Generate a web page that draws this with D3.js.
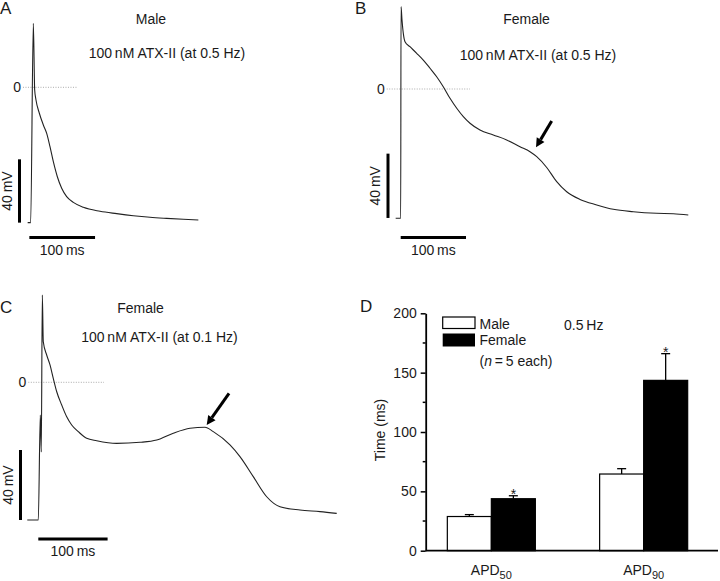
<!DOCTYPE html>
<html><head><meta charset="utf-8">
<script src="https://cdn.jsdelivr.net/npm/d3@7"></script>
<style>body{margin:0;background:#fff}text{font-family:"Liberation Sans",Arial,sans-serif;fill:#1a1a1a}</style>
</head><body><svg id="c" width="720" height="581"></svg>
<script>
// ---- data: action potential traces (time ms, voltage mV)
const traceA_t = [-4.6,0,4.05,6.1,8.1,13.2,19.3,24.4,29.4,34.5,40.6,47.2,54.8,64.9,80.2,105.5,130.9,156.3,181.6,207,232.4,255.2];
const traceA_v = [-85.5,-85.5,40.4,-1.7,-8.0,-16.4,-23.8,-29.1,-37.5,-47.0,-56.5,-63.8,-69.1,-72.7,-75.8,-78.3,-79.8,-81.1,-82.1,-82.8,-83.4,-83.8];
const traceB_t = [-7.7,0,0.5,2.0,4.0,6.6,14.2,24.5,34.6,44.9,55.1,65.2,75.5,85.8,95.9,106.1,121.4,141.8,162.3,182.7,198.0,208.3,223.6,238.9,254.2,274.6,300.2,325.6,356.2,392.0,417.5,440.4];
const traceB_v = [-80.4,-80.4,51.2,42.9,34.6,29.4,26.3,22.2,18.0,12.9,7.6,1.4,-5.8,-12.0,-17.2,-21.3,-25.5,-28.6,-31.7,-35.9,-39.0,-42.1,-48.8,-57.6,-63.9,-68.7,-72.1,-74.8,-76.3,-77.3,-77.6,-78.4];
const traceC_t = [-15.9,0,2.9,4.3,5.8,7.2,12.1,16.9,21.6,26.6,33.8,41.0,48.2,57.7,69.8,84.3,113.1,146.8,170.9,194.8,218.9,240.5,252.5,276.6,291.0,310.2,329.6,348.8,377.6,406.5,430.6];
const traceC_v = [-78.7,-78.7,-18.7,-39.8,49.9,23.2,15.6,9.9,2.3,-5.4,-13.0,-19.7,-24.4,-28.2,-32.0,-33.4,-34.9,-34.3,-33.0,-29.1,-26.3,-25.7,-28.2,-35.8,-42.5,-53.9,-65.4,-71.1,-73.0,-73.9,-74.9];
// arrows: [tail t, tail V, tip t, tip V]
const arrowB = [231.2,-19.9,207.2,-36.3];
const arrowC = [275.2,-6.3,243.0,-24.4];
// ---- data: bar chart (panel D)
const categories = ["APD50","APD90"];
const groups = ["Male","Female"];
const maleMean = [28.8,64.6];
const maleErr = [1.6,4.5];
const femaleMean = [43.8,143.5];
const femaleErr = [2.5,22.5];
const yTicks = [0,50,100,150,200];
const yMinor = [25,75,125,175];

const svg = d3.select("#c");

function panel(cfg){
  const x = d3.scaleLinear().domain([0,100]).range([cfg.x0, cfg.x0 + cfg.pxMs*100]);
  const y = d3.scaleLinear().domain([0,40]).range([cfg.zeroY, cfg.zeroY - cfg.pxMv*40]);
  const g = svg.append("g");
  // zero dotted line
  g.append("line").attr("x1",x(cfg.zero[0])).attr("x2",x(cfg.zero[1]))
    .attr("y1",y(0)).attr("y2",y(0)).attr("stroke","#aaa").attr("stroke-width",1).attr("stroke-dasharray","1,1.5");
  g.append("text").attr("x",x(cfg.zero[0])-2).attr("y",y(0)+5).attr("text-anchor","end").attr("font-size",14).text("0");
  // trace
  const pts = cfg.t.map((t,i)=>[t,cfg.v[i]]);
  g.append("path").datum(pts)
    .attr("d", d3.line().x(d=>x(d[0])).y(d=>y(d[1])).curve(d3.curveMonotoneX))
    .attr("fill","none").attr("stroke","#222").attr("stroke-width",1.1);
  // scale bars
  const vb = cfg.vbar; // [x px, V bottom]
  g.append("line").attr("x1",vb[0]).attr("x2",vb[0]).attr("y1",y(vb[1])).attr("y2",y(vb[1]+40))
    .attr("stroke","#000").attr("stroke-width",3);
  g.append("text").attr("transform",`translate(${vb[0]-8},${(y(vb[1])+y(vb[1]+40))/2}) rotate(-90)`)
    .attr("text-anchor","middle").attr("font-size",14).text("40\u2009mV");
  const hb = cfg.hbar; // [t start, y px]
  g.append("line").attr("x1",x(hb[0])).attr("x2",x(hb[0]+100)).attr("y1",hb[1]).attr("y2",hb[1])
    .attr("stroke","#000").attr("stroke-width",3);
  g.append("text").attr("x",(x(hb[0])+x(hb[0]+100))/2).attr("y",hb[1]+17).attr("text-anchor","middle")
    .attr("font-size",14).text("100\u2009ms");
  // arrow
  if(cfg.arrow){
    const a = cfg.arrow;
    const x1=x(a[0]), y1=y(a[1]), x2=x(a[2]), y2=y(a[3]);
    const ang=Math.atan2(y2-y1,x2-x1), L=9, W=4.5;
    const bx=x2-L*Math.cos(ang), by=y2-L*Math.sin(ang);
    g.append("line").attr("x1",x1).attr("y1",y1).attr("x2",bx).attr("y2",by).attr("stroke","#000").attr("stroke-width",3);
    const px=-Math.sin(ang), py=Math.cos(ang);
    g.append("path").attr("d",`M${x2},${y2}L${bx+px*W},${by+py*W}L${bx-px*W},${by-py*W}Z`).attr("fill","#000");
  }
  // labels
  g.append("text").attr("x",cfg.letter[0]).attr("y",cfg.letter[1]).attr("font-size",17).text(cfg.letter[2]);
  g.append("text").attr("x",cfg.t1[0]).attr("y",cfg.t1[1]).attr("text-anchor","middle").attr("font-size",14).text(cfg.t1[2]);
  g.append("text").attr("x",cfg.t2[0]).attr("y",cfg.t2[1]).attr("text-anchor","middle").attr("font-size",14).text(cfg.t2[2]);
}

panel({x0:30.67,pxMs:0.657,zeroY:87.3,pxMv:1.583,t:traceA_t,v:traceA_v,zero:[-11.7,72],
  vbar:[19.5,-85.5],hbar:[-2,237.5],letter:[0,14,"A"],
  t1:[151,23.5,"Male"],t2:[167,57.5,"100\u2009nM ATX-II (at 0.5 Hz)"]});
panel({x0:400.7,pxMs:0.653,zeroY:89,pxMv:1.608,t:traceB_t,v:traceB_v,zero:[-21.4,106],
  vbar:[388,-80.2],hbar:[0,237.5],letter:[355,14,"B"],arrow:arrowB,
  t1:[526.5,23.5,"Female"],t2:[538,59.5,"100\u2009nM ATX-II (at 0.5 Hz)"]});
panel({x0:38.3,pxMs:0.693,zeroY:382.3,pxMv:1.75,t:traceC_t,v:traceC_v,zero:[-14.4,94.8],
  vbar:[20.5,-78.7],hbar:[0,539],letter:[0,313,"C"],arrow:arrowC,
  t1:[140.5,313,"Female"],t2:[159.5,342,"100\u2009nM ATX-II (at 0.1 Hz)"]});

// ---- Panel D
const yS = d3.scaleLinear().domain([0,200]).range([550.7,313.3]);
const xS = d3.scaleBand().domain(categories).range([425.7,709.3]).paddingInner(0.422).paddingOuter(0.142);
const xSub = d3.scaleBand().domain(groups).range([0,xS.bandwidth()]);
const D = svg.append("g");
const rows = [];
categories.forEach((c,i)=>{
  rows.push({c,g:"Male",m:maleMean[i],e:maleErr[i]});
  rows.push({c,g:"Female",m:femaleMean[i],e:femaleErr[i]});
});
// error bars (behind)
rows.forEach(r=>{
  const cx = xS(r.c)+xSub(r.g)+xSub.bandwidth()/2;
  D.append("line").attr("x1",cx).attr("x2",cx).attr("y1",yS(r.m)).attr("y2",yS(r.m+r.e)).attr("stroke","#000").attr("stroke-width",1.3);
  D.append("line").attr("x1",cx-4.5).attr("x2",cx+4.5).attr("y1",yS(r.m+r.e)).attr("y2",yS(r.m+r.e)).attr("stroke","#000").attr("stroke-width",1.3);
  if(r.g==="Female") D.append("text").attr("x",cx).attr("y",yS(r.m+r.e)+3).attr("text-anchor","middle").attr("font-size",14).text("*");
});
D.selectAll("rect.bar").data(rows).join("rect").attr("class","bar")
  .attr("x",r=>xS(r.c)+xSub(r.g)).attr("width",xSub.bandwidth())
  .attr("y",r=>yS(r.m)).attr("height",r=>yS(0)-yS(r.m))
  .attr("fill",r=>r.g==="Male"?"#fff":"#000").attr("stroke","#000").attr("stroke-width",1.2);
// y axis
const ax = D.append("g").attr("transform","translate(425.7,0)")
  .call(d3.axisLeft(yS).tickValues(yTicks).tickSize(5).tickSizeOuter(0).tickPadding(4).tickFormat(d3.format("d")));
ax.select(".domain").attr("stroke-width",1.8);
ax.selectAll(".tick line").attr("stroke-width",1.5);
ax.selectAll(".tick text").attr("font-size",14).attr("font-family","Liberation Sans, Arial, sans-serif").attr("fill","#1a1a1a");
D.selectAll("line.minor").data(yMinor).join("line").attr("class","minor")
  .attr("x1",422.7).attr("x2",425.7).attr("y1",d=>yS(d)).attr("y2",d=>yS(d)).attr("stroke","#000").attr("stroke-width",1.5);
// x axis line
D.append("line").attr("x1",425.7).attr("x2",718).attr("y1",yS(0)).attr("y2",yS(0)).attr("stroke","#000").attr("stroke-width",1.8);
// category labels
categories.forEach(c=>{
  const t = D.append("text").attr("x",xS(c)+xS.bandwidth()/2).attr("y",575).attr("text-anchor","middle").attr("font-size",14);
  t.append("tspan").text(c.slice(0,3));
  t.append("tspan").attr("font-size",11).attr("dy",4).text(c.slice(3));
});
D.append("text").attr("transform","translate(385,430) rotate(-90)").attr("text-anchor","middle").attr("font-size",14).text("Time (ms)");
D.append("text").attr("x",360).attr("y",311.5).attr("font-size",17).text("D");
// legend
D.append("rect").attr("x",442.7).attr("y",317).attr("width",32.3).attr("height",11.5).attr("fill","#fff").attr("stroke","#000").attr("stroke-width",1.2);
D.append("rect").attr("x",442.7).attr("y",333.5).attr("width",32.3).attr("height",13).attr("fill","#000");
D.append("text").attr("x",479.5).attr("y",328.5).attr("font-size",14).text(groups[0]);
D.append("text").attr("x",479.5).attr("y",345).attr("font-size",14).text(groups[1]);
const nt = D.append("text").attr("x",479.5).attr("y",366).attr("font-size",14);
nt.append("tspan").text("(");
nt.append("tspan").attr("font-style","italic").text("n");
nt.append("tspan").text("\u2009=\u20095 each)");
D.append("text").attr("x",564).attr("y",329.5).attr("font-size",14).text("0.5\u2009Hz");
</script></body></html>
